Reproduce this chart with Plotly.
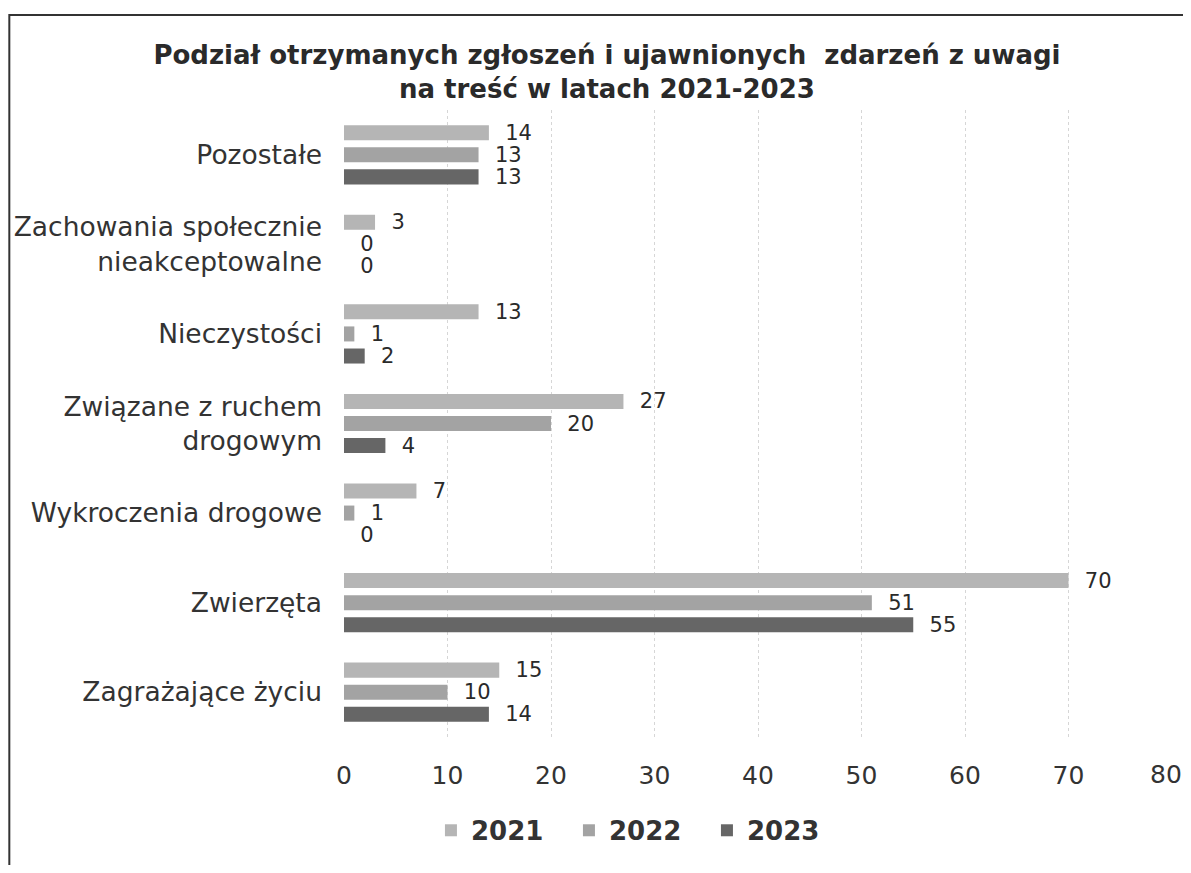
import plotly.graph_objects as go

categories = [
    "Zagrażające życiu",
    "Zwierzęta",
    "Wykroczenia drogowe",
    "Związane z ruchem<br>drogowym",
    "Nieczystości",
    "Zachowania społecznie<br>nieakceptowalne",
    "Pozostałe",
]
v2021 = [15, 70, 7, 27, 13, 3, 14]
v2022 = [10, 51, 1, 20, 1, 0, 13]
v2023 = [14, 55, 0, 4, 2, 0, 13]
x_ticks = [0, 10, 20, 30, 40, 50, 60, 70, 80]
x_tick_labels = ["0", "10", "20", "30", "40", "50", "60", "70", "80"]

series = [("2023", v2023, "#666666"), ("2022", v2022, "#a3a3a3"), ("2021", v2021, "#b5b5b5")]

FONT = "DejaVu Sans"
fig = go.Figure()
for name, vals, col in series:
    fig.add_trace(go.Bar(
        y=categories, x=vals, name=name, orientation="h",
        marker=dict(color=col, line=dict(width=0)),
        text=vals, texttemplate="\u00a0\u00a0%{x}", textposition="outside",
        constraintext="none",
        textfont=dict(family=FONT, size=21, color="#2a2a2a"),
        cliponaxis=False,
    ))

fig.update_layout(
    width=1183, height=857,
    paper_bgcolor="white", plot_bgcolor="white",
    barmode="group", bargap=0.26, bargroupgap=0.32,
    margin=dict(l=336, r=19, t=102, b=128, autoexpand=False),
    title=dict(
        text="<b>Podział otrzymanych zgłoszeń i ujawnionych  zdarzeń z uwagi<br>na treść w latach 2021-2023</b>",
        x=0.5063, xanchor="center", y=0.9344, yanchor="middle",
        font=dict(family=FONT, size=26, color="#2a2a2a"),
    ),
    xaxis=dict(
        range=[0, 80], tickvals=x_ticks[:-1] + [x_ticks[-1]],
        ticktext=x_tick_labels[:-1] + [""], showgrid=True,
        gridcolor="#d6d6d6", griddash="dot", gridwidth=1,
        zeroline=False, showline=False, automargin=False,
        ticklabeloverflow="allow",
        tickfont=dict(family=FONT, size=25, color="#333333"),
        ticklabelstandoff=21,
    ),
    yaxis=dict(
        showgrid=False, zeroline=False, showline=False, automargin=False,
        tickfont=dict(family=FONT, size=26.5, color="#333333"),
        ticklabelstandoff=21,
    ),
    legend=dict(
        orientation="h", traceorder="reversed",
        xref="container", yref="container",
        x=0.5325, xanchor="center", y=0.0404, yanchor="middle",
        font=dict(family=FONT, size=26, color="#333333", weight="bold"),
        itemwidth=30, entrywidth=93,
    ),
    showlegend=True,
)

# last tick label kept inside the visible page
fig.add_annotation(x=x_ticks[-1], xref="x", y=0, yref="paper",
                   text=x_tick_labels[-1], showarrow=False,
                   xanchor="center", yanchor="top", xshift=-6, yshift=-21,
                   font=dict(family=FONT, size=25, color="#333333"))

# frame border (left & top)
fig.add_shape(type="path", xref="paper", yref="paper",
              path="M -0.4042 -0.3 L -0.4042 1.1515 L 1.1 1.1515",
              line=dict(color="#333333", width=2))

fig.write_html("out.html")
